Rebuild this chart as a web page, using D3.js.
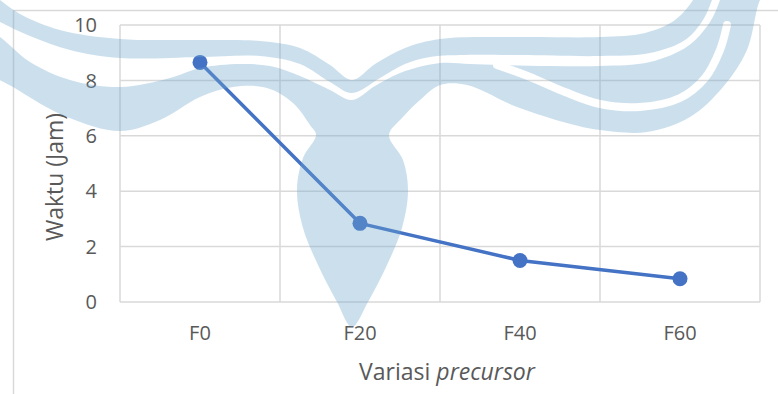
<!DOCTYPE html>
<html>
<head>
<meta charset="utf-8">
<script src="https://cdn.jsdelivr.net/npm/d3@7"></script>
<style>
  body { margin: 0; background: #fff; }
  svg { display: block; }
  text { font-family: "Open Sans", "Noto Sans", sans-serif; fill: #595959; }
</style>
</head>
<body>
<div id="chart"></div>
<script>
// data
var categories = ["F0", "F20", "F40", "F60"];
var waktu = [8.65, 2.84, 1.5, 0.84];
var yTicks = [0, 2, 4, 6, 8, 10];
var yTitle = "Waktu (Jam)";
var xTitlePlain = "Variasi ";
var xTitleItalic = "precursor";

var w = 778;
var h = 394;

var svg = d3.select("#chart").append("svg")
  .attr("width", w)
  .attr("height", h);

// outer chart frame (only left + top edges are in view)
svg.append("path")
  .attr("d", "M13.5," + h + "V10.5H" + w)
  .attr("fill", "none")
  .attr("stroke", "#d9d9d9")
  .attr("stroke-width", 1.5);

var x = d3.scaleBand().domain(categories).range([120, 760]).padding(0);
var y = d3.scaleLinear().domain([0, 10]).range([302, 25]);

var grid = svg.append("g").attr("class", "grid");

// horizontal gridlines
grid.selectAll("line.h")
  .data(yTicks)
  .enter().append("line")
  .attr("class", "h")
  .attr("x1", x.range()[0])
  .attr("x2", x.range()[1])
  .attr("y1", function(d) { return y(d); })
  .attr("y2", function(d) { return y(d); })
  .attr("stroke", "#d9d9d9")
  .attr("stroke-width", 1.5);

// vertical gridlines sit between categories (plus both ends)
var edges = categories.map(function(c) { return x(c); }).concat([x.range()[1]]);
grid.selectAll("line.v")
  .data(edges)
  .enter().append("line")
  .attr("class", "v")
  .attr("x1", function(d) { return d; })
  .attr("x2", function(d) { return d; })
  .attr("y1", y(10))
  .attr("y2", y(0))
  .attr("stroke", "#d9d9d9")
  .attr("stroke-width", 1.5);

// y tick labels
svg.selectAll("text.ytick")
  .data(yTicks)
  .enter().append("text")
  .attr("class", "ytick")
  .attr("x", 97)
  .attr("y", function(d) { return y(d); })
  .attr("dy", "0.36em")
  .attr("text-anchor", "end")
  .style("font-size", "20px")
  .text(function(d) { return d; });

// x tick labels
svg.selectAll("text.xtick")
  .data(categories)
  .enter().append("text")
  .attr("class", "xtick")
  .attr("x", function(d) { return x(d) + x.bandwidth() / 2; })
  .attr("y", 340)
  .attr("text-anchor", "middle")
  .style("font-size", "20px")
  .text(function(d) { return d; });

// axis titles
var xt = svg.append("text")
  .attr("x", 447)
  .attr("y", 380)
  .attr("text-anchor", "middle")
  .style("font-size", "23px");
xt.append("tspan").text(xTitlePlain);
xt.append("tspan").style("font-style", "italic").text(xTitleItalic);

svg.append("text")
  .attr("transform", "translate(63,177) rotate(-90)")
  .attr("text-anchor", "middle")
  .style("font-size", "23px")
  .text(yTitle);

// the series
var pts = categories.map(function(c, i) { return {c: c, v: waktu[i]}; });
var line = d3.line()
  .x(function(d) { return x(d.c) + x.bandwidth() / 2; })
  .y(function(d) { return y(d.v); });

svg.append("path")
  .datum(pts)
  .attr("d", line)
  .attr("fill", "none")
  .attr("stroke", "#4472c4")
  .attr("stroke-width", 3.5)
  .attr("stroke-linejoin", "round");

svg.selectAll("circle.pt")
  .data(pts)
  .enter().append("circle")
  .attr("class", "pt")
  .attr("cx", function(d) { return x(d.c) + x.bandwidth() / 2; })
  .attr("cy", function(d) { return y(d.v); })
  .attr("r", 7.5)
  .attr("fill", "#4472c4");

// --- watermark logo laid over the whole thing (decoration, rough trace) ---
var wmTopBand = [[-15,-12],[0,0],[20,14],[60,30],[120,39],[200,40],[260,41],[300,48],[330,65],[352,80],
  [375,64],[405,48],[440,39],[520,37],[600,37],[645,33],[675,20],[693,0],[698,-12],
  [716,-12],[712,0],[703,20],[685,40],[650,53],[600,56],[520,55],[460,55],[430,57],[405,64],[380,78],
  [352,93],[330,82],[300,64],[260,56],[200,57],[120,58],[70,50],[30,36],[0,22],[-15,14]];

var wmBody = [[-15,28],[0,37],[30,62],[70,80],[120,87],[170,78],[200,68],[240,64],[270,66],[300,76],
  [330,90],[352,100],[375,86],[400,73],[440,63],[470,64],[500,65],[550,66],[600,66],[650,62],[688,46],
  [710,22],[720,0],[724,-15],[770,-15],[760,0],[747,50],[723,87],[690,117],[647,132],[600,130],
  [567,123],[517,107],[467,85],[440,85],[420,100],[402,118],[389,135],[403,160],[408,190],[402,228],
  [387,265],[368,302],[352,327],[337,302],[318,265],[303,228],[297,190],[303,158],[316,135],[310,125],
  [293,103],[267,88],[233,87],[200,97],[160,120],[120,131],[67,117],[13,87],[-15,68]];

var wmGap = [[497,65],[530,77],[565,92],[600,104],[640,107],[680,98],[705,78],[720,50],[727,25]];

var defs = svg.append("defs");
var mask = defs.append("mask").attr("id", "wmMask");
mask.append("rect").attr("width", w).attr("height", h).attr("fill", "white");
mask.append("path")
  .attr("d", d3.line().curve(d3.curveCatmullRom.alpha(0.5))(wmGap))
  .attr("fill", "none")
  .attr("stroke", "black")
  .attr("stroke-width", 8)
  .attr("stroke-linecap", "round");

var blob = d3.line().curve(d3.curveCatmullRomClosed.alpha(0.5));
var wm = svg.append("g")
  .attr("opacity", 0.35)
  .attr("mask", "url(#wmMask)")
  .attr("fill", "rgb(109,166,206)");
wm.append("path").attr("d", blob(wmTopBand));
wm.append("path").attr("d", blob(wmBody));
</script>
</body>
</html>
